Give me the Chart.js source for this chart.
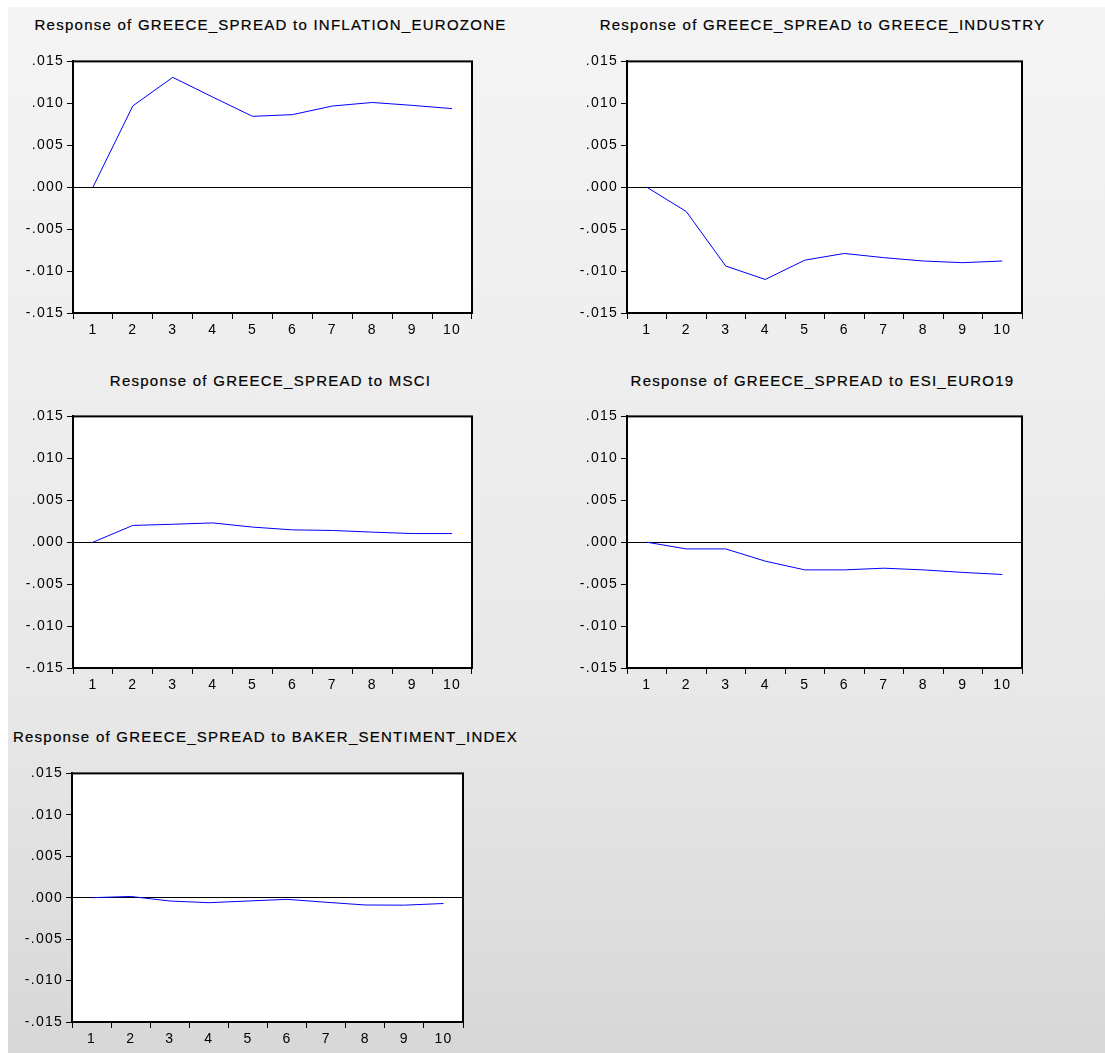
<!DOCTYPE html>
<html>
<head>
<meta charset="utf-8">
<script src="https://cdn.jsdelivr.net/npm/chart.js@4.4.1/dist/chart.umd.min.js"></script>
<style>
  html, body { margin: 0; padding: 0; background: #fff; }
  #page { position: relative; width: 1105px; height: 1053px; overflow: hidden; background: #fff; }
  #bg {
    position: absolute; left: 8px; top: 7px; right: 0; bottom: 0;
    background: linear-gradient(#f4f4f4 0%, #e8e8e8 66%, #d7d7d7 100%);
  }
  #page canvas { position: absolute; }
  .title {
    position: absolute; transform: translate(-50%, -50%); white-space: nowrap;
    font: 15px "Liberation Sans", Arial, sans-serif; letter-spacing: 1.25px; color: #000;
    -webkit-text-stroke: 0.2px #000;
  }
</style>
</head>
<body>
<div id="page"><div id="bg"></div></div>
<script>
  // impulse response horizon
  const STEPS = ["1", "2", "3", "4", "5", "6", "7", "8", "9", "10"];

  // responses of GREECE_SPREAD
  const INFLATION_EUROZONE = [0, 0.0097, 0.0131, 0.01075, 0.00845, 0.00865, 0.00968, 0.0101, 0.00976, 0.00937];
  const GREECE_INDUSTRY = [0, -0.0029, -0.0094, -0.011, -0.0087, -0.0079, -0.0084, -0.0088, -0.009, -0.0088];
  const MSCI = [0, 0.002, 0.00214, 0.0023, 0.0018, 0.00147, 0.0014, 0.0012, 0.00103, 0.00103];
  const ESI_EURO19 = [0, -0.0008, -0.0008, -0.00226, -0.0033, -0.0033, -0.0031, -0.0033, -0.0036, -0.00385];
  const BAKER_SENTIMENT_INDEX = [0, 0.00015, -0.0004, -0.0006, -0.0004, -0.0002, -0.00055, -0.00088, -0.0009, -0.0007];

  const Y_MIN = -0.015;
  const Y_MAX = 0.015;
  const Y_STEP = 0.005;

  const FONT = '"Liberation Sans", Arial, sans-serif';

  // chart area of each panel on the page: left, right, top, bottom
  const PANELS = [
    { shock: "INFLATION_EUROZONE", data: INFLATION_EUROZONE, area: [73, 472, 60, 313], titleY: 24 },
    { shock: "GREECE_INDUSTRY", data: GREECE_INDUSTRY, area: [627, 1022, 60, 313], titleY: 24 },
    { shock: "MSCI", data: MSCI, area: [73, 472, 415, 668], titleY: 380 },
    { shock: "ESI_EURO19", data: ESI_EURO19, area: [627, 1022, 415, 668], titleY: 380 },
    { shock: "BAKER_SENTIMENT_INDEX", data: BAKER_SENTIMENT_INDEX, area: [72, 463, 772, 1022], titleY: 736 },
  ];

  function fmt(v) {
    if (Math.abs(v) < 1e-9) return ".000";
    return v.toFixed(3).replace("0.", ".");
  }

  // white plot area + eviews-like wide text
  const plotBg = {
    id: "plotBg",
    beforeDraw(chart) {
      const { ctx, chartArea: a } = chart;
      ctx.letterSpacing = "1.25px";
      ctx.save();
      ctx.fillStyle = "#fff";
      ctx.fillRect(a.left, a.top, a.right - a.left, a.bottom - a.top);
      ctx.restore();
    },
  };

  // closed box round the plot area
  const frame = {
    id: "frame",
    afterDraw(chart) {
      const { ctx, chartArea: a } = chart;
      ctx.save();
      ctx.strokeStyle = "#000";
      ctx.lineWidth = 2;
      ctx.strokeRect(a.left, a.top, a.right - a.left, a.bottom - a.top);
      ctx.restore();
    },
  };

  const page = document.getElementById("page");

  PANELS.forEach((p) => {
    const [L, R, T, B] = p.area;
    const canvas = document.createElement("canvas");
    canvas.width = R - L + 80;
    canvas.height = B - T + 50;
    canvas.style.left = (L - 70) + "px";
    canvas.style.top = (T - 10) + "px";
    page.appendChild(canvas);

    const title = document.createElement("div");
    title.className = "title";
    title.textContent = "Response of GREECE_SPREAD to " + p.shock;
    title.style.left = ((L + R) / 2 - 2) + "px";
    title.style.top = p.titleY + "px";
    page.appendChild(title);

    new Chart(canvas, {
      type: "line",
      data: {
        labels: STEPS,
        datasets: [{
          data: p.data,
          borderColor: "#0000ff",
          borderWidth: 1,
          pointRadius: 0,
          tension: 0,
          fill: false,
        }],
      },
      options: {
        responsive: false,
        animation: false,
        events: [],
        layout: { padding: { left: 10, right: 10, top: 10, bottom: 10 } },
        plugins: {
          legend: { display: false },
          tooltip: { enabled: false },
          title: { display: false },
        },
        scales: {
          x: {
            type: "category",
            offset: true,
            grid: { offset: true, drawOnChartArea: false, tickLength: 6, color: "#000", lineWidth: 1 },
            border: { color: "#000", width: 2 },
            ticks: { color: "#000", font: { family: FONT, size: 14 }, padding: 3, maxRotation: 0, autoSkip: false },
            afterFit(s) { s.height = 30; },
          },
          y: {
            min: Y_MIN,
            max: Y_MAX,
            grid: {
              color: (c) => (c.tick && Math.abs(c.tick.value) < 1e-9 ? "#000" : "rgba(0,0,0,0)"),
              tickColor: "#000",
              tickLength: 6,
              lineWidth: 1,
            },
            border: { color: "#000", width: 2 },
            ticks: { stepSize: Y_STEP, callback: fmt, color: "#000", font: { family: FONT, size: 14 }, padding: 3 },
            afterFit(s) { s.width = 60; },
          },
        },
      },
      plugins: [plotBg, frame],
    });
  });
</script>
</body>
</html>
